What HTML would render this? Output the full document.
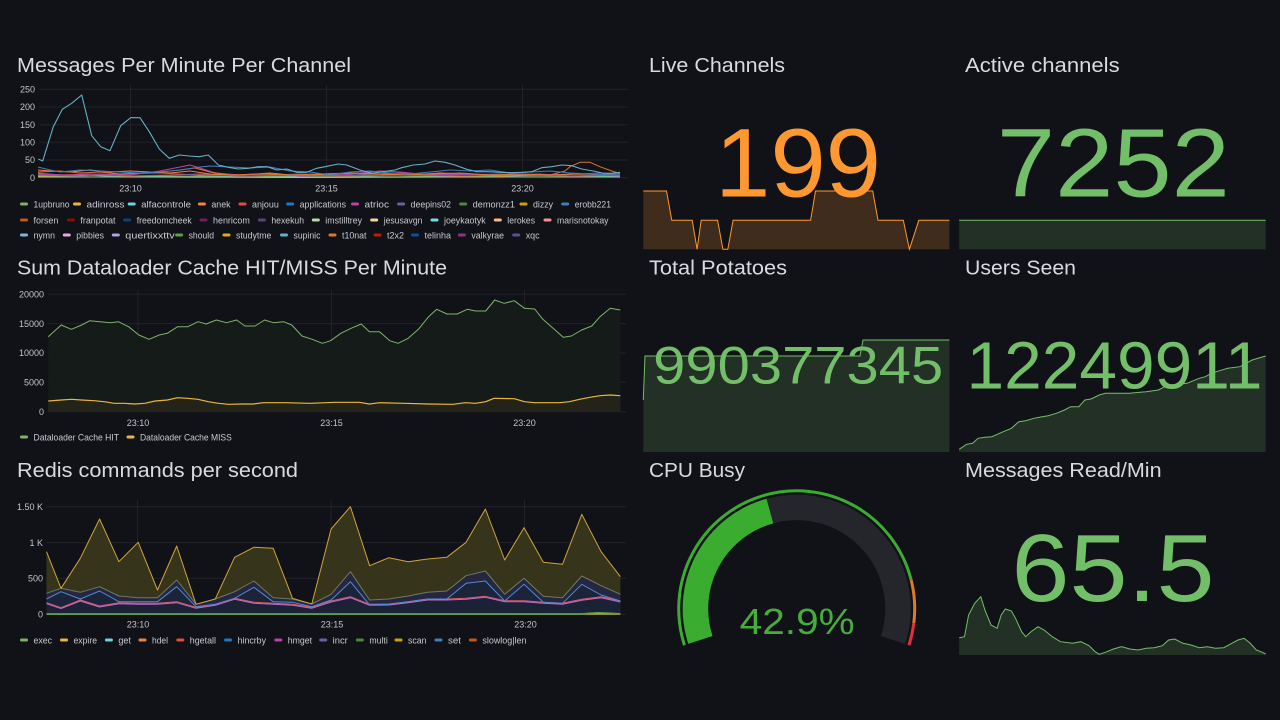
<!DOCTYPE html>
<html><head><meta charset="utf-8">
<style>
html,body{margin:0;padding:0;background:#111217;}
svg{display:block;}
text{font-family:"Liberation Sans",Arial,sans-serif;}
.t{font-size:20px;fill:#d9dae0;}
.ax{font-size:9px;fill:#c3c4ca;}
.lg{font-size:9px;fill:#c9cacf;}
.g{stroke:#202228;stroke-width:1;fill:none;}
</style></head>
<body>
<svg width="1280" height="720" viewBox="0 0 1280 720" xmlns="http://www.w3.org/2000/svg">
<rect width="1280" height="720" fill="#111217"/>

<!-- ============ Chart 1: Messages Per Minute Per Channel ============ -->
<text class="t" x="17" y="72" textLength="334" lengthAdjust="spacingAndGlyphs">Messages Per Minute Per Channel</text>
<g class="g">
<path d="M39 89.3H628M39 107H628M39 124.7H628M39 142.3H628M39 160H628M39 177.7H628"/>
<path d="M130.5 85V178M326.5 85V178M522.5 85V178"/>
</g>
<g class="ax" text-anchor="end">
<text x="35" y="92.5">250</text><text x="35" y="110.2">200</text><text x="35" y="127.9">150</text>
<text x="35" y="145.5">100</text><text x="35" y="163.2">50</text><text x="35" y="180.9">0</text>
</g>
<g class="ax" text-anchor="middle">
<text x="130.5" y="191.3">23:10</text><text x="326.5" y="191.3">23:15</text><text x="522.5" y="191.3">23:20</text>
</g>
<g fill="none" stroke-width="1" stroke-linejoin="round">
<polyline stroke="#EAB839" points="38,177 150,177 300,177.5 450,177 620,177"/>
<polyline stroke="#6ED0E0" points="38,176 80,175 130,177 200,176 260,177 330,176 400,177 470,176 540,177 620,177"/>
<polyline stroke="#7EB26D" points="38,176 100,177 160,176 230,177 300,176 380,177 450,176 520,177 620,176"/>
<polyline stroke="#E24D42" points="38,173 60,175 90,174 130,176 170,175 200,174 240,176 290,175 340,176 400,175 460,176 520,175 580,176 620,175"/>
<polyline stroke="#705DA0" points="38,175 80,176 120,174 160,173 200,175 250,176 300,174 350,175 400,173 450,175 500,174 550,175 600,173 620,174"/>
<polyline stroke="#EF843C" points="38,170 50,171 70,172 90,170 110,172 130,171 150,172 170,173 190,171 210,174 240,175 270,173 300,176 330,174 360,173 380,174 410,175 440,173 470,174 500,176 540,175 580,174 620,175"/>
<polyline stroke="#BA43A9" points="38,174 70,175 100,174 130,175 160,171 180,167 190,165 200,168 215,173 240,175 270,174 300,176 340,175 360,173 380,171 400,172 430,175 460,174 500,175 540,174 570,176 600,175 620,176"/>
<polyline stroke="#E0752D" points="38,172 60,171 80,173 100,172 120,174 140,173 160,172 180,170 195,168 210,172 230,175 260,174 290,175 320,174 350,173 370,174 400,175 430,174 460,173 490,175 520,174 550,175 565,171 570,166.7 580,162.3 590,162.3 600,166.7 611.7,171 620,173.3"/>
<polyline stroke="#447EBC" points="38,167 50,170 60,172 80,170 100,171 120,172 140,173 160,172 180,170 200,167 210,166 230,167 250,168 270,167 290,171 310,172 330,175 350,172 370,171 390,173 410,174 430,172 450,170 470,171 490,170 510,173 530,172 550,171 570,173 590,174 620,175"/>
<polyline stroke="#64B0C8" stroke-width="1.1" points="38.3,159 42.7,161 53.3,126.7 62.3,109.3 71.7,103.3 81.7,95 91.7,135.7 100.7,146.7 110,150.7 120.7,125.7 130.7,117.7 140,117.7 149.3,131.7 159.3,149 169.3,158.3 179.3,155 189.3,156 199.3,156.7 208.3,155 218.3,165 228.3,167.3 238.3,169 248.3,168.3 258.3,166.7 267.3,166.7 276.7,170 286.7,169 296.7,172.3 306.7,172.3 316.7,168.3 325,166.7 338.3,164 346.7,165 360,170 371.7,173.3 383.3,171.7 395,170 401.7,167.7 413.3,165 425,164 435,161 445,162.3 455,165 466.7,169.3 476.7,171.7 488.3,171.7 500,172.3 511.7,172.7 523.3,172.3 531.7,171.7 541.7,167.7 551.7,166.7 561.7,165 571.7,165.7 581.7,169 593.3,171 603.3,173.3 611.7,173.3 620,172.3"/>
</g>
<!-- legend chart 1 -->
<g>
<rect x="20" y="202.5" width="8" height="3" rx="1.5" fill="#7EB26D"/><text class="lg" x="33.5" y="207.3" textLength="36" lengthAdjust="spacingAndGlyphs">1upbruno</text>
<rect x="73" y="202.5" width="8" height="3" rx="1.5" fill="#EAB839"/><text class="lg" x="86.5" y="207.3" textLength="38" lengthAdjust="spacingAndGlyphs">adinross</text>
<rect x="127.7" y="202.5" width="8" height="3" rx="1.5" fill="#6ED0E0"/><text class="lg" x="141.2" y="207.3" textLength="49.8" lengthAdjust="spacingAndGlyphs">alfacontrole</text>
<rect x="197.9" y="202.5" width="8" height="3" rx="1.5" fill="#EF843C"/><text class="lg" x="211.4" y="207.3" textLength="19.2" lengthAdjust="spacingAndGlyphs">anek</text>
<rect x="238.5" y="202.5" width="8" height="3" rx="1.5" fill="#E24D42"/><text class="lg" x="252" y="207.3" textLength="26.8" lengthAdjust="spacingAndGlyphs">anjouu</text>
<rect x="286.1" y="202.5" width="8" height="3" rx="1.5" fill="#1F78C1"/><text class="lg" x="299.6" y="207.3" textLength="46.4" lengthAdjust="spacingAndGlyphs">applications</text>
<rect x="351" y="202.5" width="8" height="3" rx="1.5" fill="#BA43A9"/><text class="lg" x="364.5" y="207.3" textLength="24.5" lengthAdjust="spacingAndGlyphs">atrioc</text>
<rect x="397.1" y="202.5" width="8" height="3" rx="1.5" fill="#705DA0"/><text class="lg" x="410.6" y="207.3" textLength="40.4" lengthAdjust="spacingAndGlyphs">deepins02</text>
<rect x="459.2" y="202.5" width="8" height="3" rx="1.5" fill="#508642"/><text class="lg" x="472.7" y="207.3" textLength="42.3" lengthAdjust="spacingAndGlyphs">demonzz1</text>
<rect x="519.5" y="202.5" width="8" height="3" rx="1.5" fill="#CCA300"/><text class="lg" x="533" y="207.3" textLength="20" lengthAdjust="spacingAndGlyphs">dizzy</text>
<rect x="561.2" y="202.5" width="8" height="3" rx="1.5" fill="#447EBC"/><text class="lg" x="574.7" y="207.3" textLength="36.3" lengthAdjust="spacingAndGlyphs">erobb221</text>

<rect x="20" y="218.5" width="8" height="3" rx="1.5" fill="#C15C17"/><text class="lg" x="33.5" y="223.3" textLength="24.9" lengthAdjust="spacingAndGlyphs">forsen</text>
<rect x="66.9" y="218.5" width="8" height="3" rx="1.5" fill="#890F02"/><text class="lg" x="80.4" y="223.3" textLength="35.1" lengthAdjust="spacingAndGlyphs">franpotat</text>
<rect x="123.2" y="218.5" width="8" height="3" rx="1.5" fill="#0A437C"/><text class="lg" x="136.7" y="223.3" textLength="55.1" lengthAdjust="spacingAndGlyphs">freedomcheek</text>
<rect x="199.5" y="218.5" width="8" height="3" rx="1.5" fill="#6D1F62"/><text class="lg" x="213" y="223.3" textLength="36.8" lengthAdjust="spacingAndGlyphs">henricom</text>
<rect x="257.9" y="218.5" width="8" height="3" rx="1.5" fill="#584477"/><text class="lg" x="271.4" y="223.3" textLength="32.6" lengthAdjust="spacingAndGlyphs">hexekuh</text>
<rect x="311.8" y="218.5" width="8" height="3" rx="1.5" fill="#B7DBAB"/><text class="lg" x="325.3" y="223.3" textLength="36.7" lengthAdjust="spacingAndGlyphs">imstilltrey</text>
<rect x="370.2" y="218.5" width="8" height="3" rx="1.5" fill="#F4D598"/><text class="lg" x="383.7" y="223.3" textLength="38.7" lengthAdjust="spacingAndGlyphs">jesusavgn</text>
<rect x="430.5" y="218.5" width="8" height="3" rx="1.5" fill="#70DBED"/><text class="lg" x="444" y="223.3" textLength="41.7" lengthAdjust="spacingAndGlyphs">joeykaotyk</text>
<rect x="493.8" y="218.5" width="8" height="3" rx="1.5" fill="#F9BA8F"/><text class="lg" x="507.3" y="223.3" textLength="27.7" lengthAdjust="spacingAndGlyphs">lerokes</text>
<rect x="543.5" y="218.5" width="8" height="3" rx="1.5" fill="#F29191"/><text class="lg" x="557" y="223.3" textLength="51.5" lengthAdjust="spacingAndGlyphs">marisnotokay</text>

<rect x="20" y="233.5" width="8" height="3" rx="1.5" fill="#82B5D8"/><text class="lg" x="33.5" y="238.3" textLength="21.5" lengthAdjust="spacingAndGlyphs">nymn</text>
<rect x="62.8" y="233.5" width="8" height="3" rx="1.5" fill="#E5A8E2"/><text class="lg" x="76.3" y="238.3" textLength="27.7" lengthAdjust="spacingAndGlyphs">pibbies</text>
<rect x="111.8" y="233.5" width="8" height="3" rx="1.5" fill="#AEA2E0"/><text class="lg" x="125.3" y="238.3" textLength="49.4" lengthAdjust="spacingAndGlyphs">quertixxttv</text>
<rect x="175.1" y="233.5" width="8" height="3" rx="1.5" fill="#629E51"/><text class="lg" x="188.6" y="238.3" textLength="25.4" lengthAdjust="spacingAndGlyphs">should</text>
<rect x="222.5" y="233.5" width="8" height="3" rx="1.5" fill="#E5AC0E"/><text class="lg" x="236" y="238.3" textLength="35.4" lengthAdjust="spacingAndGlyphs">studytme</text>
<rect x="280" y="233.5" width="8" height="3" rx="1.5" fill="#64B0C8"/><text class="lg" x="293.5" y="238.3" textLength="26.9" lengthAdjust="spacingAndGlyphs">supinic</text>
<rect x="328.5" y="233.5" width="8" height="3" rx="1.5" fill="#E0752D"/><text class="lg" x="342" y="238.3" textLength="24.5" lengthAdjust="spacingAndGlyphs">t10nat</text>
<rect x="373.5" y="233.5" width="8" height="3" rx="1.5" fill="#BF1B00"/><text class="lg" x="387" y="238.3" textLength="17" lengthAdjust="spacingAndGlyphs">t2x2</text>
<rect x="411" y="233.5" width="8" height="3" rx="1.5" fill="#0A50A1"/><text class="lg" x="424.5" y="238.3" textLength="26.5" lengthAdjust="spacingAndGlyphs">telinha</text>
<rect x="457.9" y="233.5" width="8" height="3" rx="1.5" fill="#962D82"/><text class="lg" x="471.4" y="238.3" textLength="32.6" lengthAdjust="spacingAndGlyphs">valkyrae</text>
<rect x="512.2" y="233.5" width="8" height="3" rx="1.5" fill="#614D93"/><text class="lg" x="525.7" y="238.3" textLength="13.9" lengthAdjust="spacingAndGlyphs">xqc</text>
</g>

<!-- ============ Chart 2: Dataloader ============ -->
<text class="t" x="17" y="274.5" textLength="430" lengthAdjust="spacingAndGlyphs">Sum Dataloader Cache HIT/MISS Per Minute</text>
<g class="g">
<path d="M48 294.3H626M48 323.6H626M48 353H626M48 382.3H626M48 411.7H626"/>
<path d="M138 290V412M331.5 290V412M524.5 290V412"/>
</g>
<g class="ax" text-anchor="end">
<text x="44" y="297.5">20000</text><text x="44" y="326.8">15000</text><text x="44" y="356.2">10000</text>
<text x="44" y="385.5">5000</text><text x="44" y="414.9">0</text>
</g>
<g class="ax" text-anchor="middle">
<text x="138" y="426">23:10</text><text x="331.5" y="426">23:15</text><text x="524.5" y="426">23:20</text>
</g>
<path fill="#151b18" d="M48.2,411.7 L48.2,336.7 61.2,325 71.4,329.3 81.6,325 89.8,320.7 100,321.7 110.2,322.7 118.4,321.7 128.6,326.7 138.8,335 149,339.3 159.2,335 167.3,333.3 177.6,326.7 187.8,326.7 198,321.7 206.1,324 216.3,320 226.5,322.7 236.7,320 244.9,326 255.1,326 264.5,320 273.5,322.7 283.7,321.7 291.8,325 302,336 312.2,339.3 322.4,343.3 330.6,340.7 340.8,333.3 351,328.3 361.2,324 369.4,331.7 379.6,331.7 389.8,340.7 398,343.3 408.2,338.3 418.4,329.3 428.6,316.7 436.7,309.3 447,314 457.1,314 467.3,309.3 475.5,311 485.7,311 494.7,300 504.1,303.3 514.3,300.7 524.5,308.3 534.7,309 542.9,319.3 553.1,328.3 563.3,337.3 571.4,336 581.6,330 591.8,326 600,316.7 610.2,308.3 620.4,310 L620.4,411.7 Z"/>
<path fill="#23231a" d="M48.2,411.7 L48.2,401 61.2,400 71.4,399.3 81.6,400 93.9,400.7 104.1,401.7 114.3,403.3 124.5,403.3 134.7,404 144.9,403.3 155.1,401 167.3,400 177.6,397.7 187.8,398.3 198,399.3 208.2,401.7 218.4,403.3 228.6,404.3 240.8,404 253.1,404 263.3,402.7 285.7,402.7 310.2,403.3 334.7,402.3 359.2,402.3 369.4,404 379.6,402.7 404.1,403.3 428.6,404 453.1,404.3 465.3,402.7 475.5,403.3 485.7,401.7 493.9,398.3 514.3,398.7 524.5,401.7 534.7,402.7 559.2,402.7 569.4,401.7 579.6,399.3 589.8,397.3 600,395.7 610.2,395 620.4,395.7 L620.4,411.7 Z"/>
<polyline fill="none" stroke="#7EB26D" stroke-width="1" stroke-linejoin="round" points="48.2,336.7 61.2,325 71.4,329.3 81.6,325 89.8,320.7 100,321.7 110.2,322.7 118.4,321.7 128.6,326.7 138.8,335 149,339.3 159.2,335 167.3,333.3 177.6,326.7 187.8,326.7 198,321.7 206.1,324 216.3,320 226.5,322.7 236.7,320 244.9,326 255.1,326 264.5,320 273.5,322.7 283.7,321.7 291.8,325 302,336 312.2,339.3 322.4,343.3 330.6,340.7 340.8,333.3 351,328.3 361.2,324 369.4,331.7 379.6,331.7 389.8,340.7 398,343.3 408.2,338.3 418.4,329.3 428.6,316.7 436.7,309.3 447,314 457.1,314 467.3,309.3 475.5,311 485.7,311 494.7,300 504.1,303.3 514.3,300.7 524.5,308.3 534.7,309 542.9,319.3 553.1,328.3 563.3,337.3 571.4,336 581.6,330 591.8,326 600,316.7 610.2,308.3 620.4,310"/>
<polyline fill="none" stroke="#EAB839" stroke-width="1.2" stroke-linejoin="round" points="48.2,401 61.2,400 71.4,399.3 81.6,400 93.9,400.7 104.1,401.7 114.3,403.3 124.5,403.3 134.7,404 144.9,403.3 155.1,401 167.3,400 177.6,397.7 187.8,398.3 198,399.3 208.2,401.7 218.4,403.3 228.6,404.3 240.8,404 253.1,404 263.3,402.7 285.7,402.7 310.2,403.3 334.7,402.3 359.2,402.3 369.4,404 379.6,402.7 404.1,403.3 428.6,404 453.1,404.3 465.3,402.7 475.5,403.3 485.7,401.7 493.9,398.3 514.3,398.7 524.5,401.7 534.7,402.7 559.2,402.7 569.4,401.7 579.6,399.3 589.8,397.3 600,395.7 610.2,395 620.4,395.7"/>
<rect x="20" y="435.5" width="8" height="3" rx="1.5" fill="#7EB26D"/><text class="lg" x="33.5" y="440.3" textLength="85.5" lengthAdjust="spacingAndGlyphs">Dataloader Cache HIT</text>
<rect x="126.5" y="435.5" width="8" height="3" rx="1.5" fill="#EAB839"/><text class="lg" x="140" y="440.3" textLength="91.8" lengthAdjust="spacingAndGlyphs">Dataloader Cache MISS</text>

<!-- ============ Chart 3: Redis ============ -->
<text class="t" x="17" y="477" textLength="281" lengthAdjust="spacingAndGlyphs">Redis commands per second</text>
<g class="g">
<path d="M46 506.7H626M46 542.6H626M46 578.4H626M46 614.3H626"/>
<path d="M137.5 500V614M331 500V614M524.5 500V614"/>
</g>
<g class="ax" text-anchor="end">
<text x="43" y="509.9">1.50 K</text><text x="43" y="545.8">1 K</text><text x="43" y="581.6">500</text><text x="43" y="617.5">0</text>
</g>
<g class="ax" text-anchor="middle">
<text x="138" y="627.5">23:10</text><text x="332" y="627.5">23:15</text><text x="525.5" y="627.5">23:20</text>
</g>
<!-- stacked fills -->
<path fill="#36341b" d="M46.5,614.3 L46.5,551.7 61,588.3 80.3,558.3 99.6,519 118.9,561.7 138.2,542.3 157.5,590 176.7,546 196,604.3 215.3,599 234.6,557.3 253.9,547.3 273.2,548.3 292.5,598.3 311.8,604 331.1,529 350.4,506.7 369.6,565.7 388.9,557.7 408.2,561.7 427.5,559 446.8,557.3 466.1,542.3 485.4,509 504.7,560 524,527.7 543.3,562.3 562.5,564.3 581.8,514.3 601.1,551.7 620.4,576.7 L620.4,614.3 Z"/>
<path fill="#252640" d="M46.5,614.3 L46.5,593.3 61,588.3 80.3,592.3 99.6,586.7 118.9,596 138.2,597.7 157.5,597.7 176.7,580 196,604.3 215.3,599 234.6,591.7 253.9,581 273.2,597.7 292.5,599 311.8,604 331.1,594.3 350.4,571.7 369.6,600 388.9,599 408.2,596 427.5,592.3 446.8,591 466.1,575.7 485.4,571 504.7,594.3 524,578.3 543.3,596.3 562.5,597.7 581.8,576 601.1,585.7 620.4,594.3 L620.4,614.3 Z"/>
<path fill="#1b2439" d="M46.5,614.3 L46.5,599 61,591.7 80.3,599 99.6,591 118.9,601.7 138.2,601.7 157.5,601.7 176.7,586.7 196,606.7 215.3,604.3 234.6,598.3 253.9,587.3 273.2,601.7 292.5,602.3 311.8,606.7 331.1,600 350.4,581.7 369.6,605 388.9,604.3 408.2,601.7 427.5,599 446.8,599 466.1,583.3 485.4,581 504.7,601 524,584.3 543.3,602.3 562.5,603.3 581.8,584.3 601.1,595 620.4,601 L620.4,614.3 Z"/>
<path fill="#1c2235" d="M46.5,614.3 L46.5,602.7 61,607.7 80.3,600 99.6,606 118.9,602.7 138.2,603.3 157.5,603.3 176.7,601.7 196,607.3 215.3,604.3 234.6,598.3 253.9,602.3 273.2,603.3 292.5,604.3 311.8,607.3 331.1,601 350.4,596.7 369.6,604.3 388.9,604 408.2,601.7 427.5,599 446.8,599 466.1,598.3 485.4,596.3 504.7,600.7 524,600.7 543.3,602.3 562.5,603.3 581.8,599.3 601.1,596.7 620.4,601 L620.4,614.3 Z"/>
<g fill="none" stroke-width="1" stroke-linejoin="round">
<polyline stroke="#b86fc9" points="46.5,603.7 61,608.5 80.3,601 99.6,607 118.9,603.7 138.2,604.3 157.5,604.3 176.7,602.7 196,608.3 215.3,605.3 234.6,599.3 253.9,603.3 273.2,604.3 292.5,605.3 311.8,608.3 331.1,602 350.4,597.7 369.6,605.3 388.9,605 408.2,602.7 427.5,600 446.8,600 466.1,599.3 485.4,597.3 504.7,601.7 524,601.7 543.3,603.3 562.5,604.3 581.8,600.3 601.1,597.7 620.4,602"/>
<polyline stroke="#e0586c" points="46.5,602.7 61,607.7 80.3,600 99.6,606 118.9,602.7 138.2,603.3 157.5,603.3 176.7,601.7 196,607.3 215.3,604.3 234.6,598.3 253.9,602.3 273.2,603.3 292.5,604.3 311.8,607.3 331.1,601 350.4,596.7 369.6,604.3 388.9,604 408.2,601.7 427.5,599 446.8,599 466.1,598.3 485.4,596.3 504.7,600.7 524,600.7 543.3,602.3 562.5,603.3 581.8,599.3 601.1,596.7 620.4,601"/>
<polyline stroke="#5189d6" points="46.5,599 61,591.7 80.3,599 99.6,591 118.9,601.7 138.2,601.7 157.5,601.7 176.7,586.7 196,606.7 215.3,604.3 234.6,598.3 253.9,587.3 273.2,601.7 292.5,602.3 311.8,606.7 331.1,600 350.4,581.7 369.6,605 388.9,604.3 408.2,601.7 427.5,599 446.8,599 466.1,583.3 485.4,581 504.7,601 524,584.3 543.3,602.3 562.5,603.3 581.8,584.3 601.1,595 620.4,601"/>
<polyline stroke="#707a5e" points="46.5,593.3 61,588.3 80.3,592.3 99.6,586.7 118.9,596 138.2,597.7 157.5,597.7 176.7,580 196,604.3 215.3,599 234.6,591.7 253.9,581 273.2,597.7 292.5,599 311.8,604 331.1,594.3 350.4,571.7 369.6,600 388.9,599 408.2,596 427.5,592.3 446.8,591 466.1,575.7 485.4,571 504.7,594.3 524,578.3 543.3,596.3 562.5,597.7 581.8,576 601.1,585.7 620.4,594.3"/>
<polyline stroke="#cfa43c" points="46.5,551.7 61,588.3 80.3,558.3 99.6,519 118.9,561.7 138.2,542.3 157.5,590 176.7,546 196,604.3 215.3,599 234.6,557.3 253.9,547.3 273.2,548.3 292.5,598.3 311.8,604 331.1,529 350.4,506.7 369.6,565.7 388.9,557.7 408.2,561.7 427.5,559 446.8,557.3 466.1,542.3 485.4,509 504.7,560 524,527.7 543.3,562.3 562.5,564.3 581.8,514.3 601.1,551.7 620.4,576.7"/>
<polyline stroke="#b7b33a" stroke-width="1.4" points="46.5,614 620.4,614"/>
<polyline stroke="#5aa64b" stroke-width="1.3" points="46.5,614.2 580,614.2 588,613.3 598,612.7 610,613.2 620.4,613.6"/>
</g>
<!-- legend chart 3 -->
<g>
<rect x="20" y="638.5" width="8" height="3" rx="1.5" fill="#7EB26D"/><text class="lg" x="33.5" y="643.3" textLength="18.5" lengthAdjust="spacingAndGlyphs">exec</text>
<rect x="60" y="638.5" width="8" height="3" rx="1.5" fill="#EAB839"/><text class="lg" x="73.5" y="643.3" textLength="23.5" lengthAdjust="spacingAndGlyphs">expire</text>
<rect x="104.9" y="638.5" width="8" height="3" rx="1.5" fill="#6ED0E0"/><text class="lg" x="118.4" y="643.3" textLength="12.6" lengthAdjust="spacingAndGlyphs">get</text>
<rect x="138.5" y="638.5" width="8" height="3" rx="1.5" fill="#EF843C"/><text class="lg" x="152" y="643.3" textLength="16" lengthAdjust="spacingAndGlyphs">hdel</text>
<rect x="176.3" y="638.5" width="8" height="3" rx="1.5" fill="#E24D42"/><text class="lg" x="189.8" y="643.3" textLength="26.2" lengthAdjust="spacingAndGlyphs">hgetall</text>
<rect x="224.1" y="638.5" width="8" height="3" rx="1.5" fill="#1F78C1"/><text class="lg" x="237.6" y="643.3" textLength="28.4" lengthAdjust="spacingAndGlyphs">hincrby</text>
<rect x="274.3" y="638.5" width="8" height="3" rx="1.5" fill="#BA43A9"/><text class="lg" x="287.8" y="643.3" textLength="24.2" lengthAdjust="spacingAndGlyphs">hmget</text>
<rect x="319.2" y="638.5" width="8" height="3" rx="1.5" fill="#705DA0"/><text class="lg" x="332.7" y="643.3" textLength="15.1" lengthAdjust="spacingAndGlyphs">incr</text>
<rect x="355.9" y="638.5" width="8" height="3" rx="1.5" fill="#508642"/><text class="lg" x="369.4" y="643.3" textLength="18.4" lengthAdjust="spacingAndGlyphs">multi</text>
<rect x="394.5" y="638.5" width="8" height="3" rx="1.5" fill="#CCA300"/><text class="lg" x="408" y="643.3" textLength="18.5" lengthAdjust="spacingAndGlyphs">scan</text>
<rect x="434.5" y="638.5" width="8" height="3" rx="1.5" fill="#447EBC"/><text class="lg" x="448" y="643.3" textLength="13" lengthAdjust="spacingAndGlyphs">set</text>
<rect x="468.9" y="638.5" width="8" height="3" rx="1.5" fill="#C15C17"/><text class="lg" x="482.4" y="643.3" textLength="44.1" lengthAdjust="spacingAndGlyphs">slowlog|len</text>
</g>

<!-- ============ Stat: Live Channels ============ -->
<text class="t" x="649" y="72" textLength="136" lengthAdjust="spacingAndGlyphs">Live Channels</text>
<path fill="rgba(255,152,48,0.2)" d="M643.3,249.3 L643.3,191 666.5,191 671.8,220.3 692.2,220.3 697.1,249.3 701.2,220.3 717.6,220.3 722.9,249.3 727.8,249.3 733.1,220.3 810.6,220.3 815.5,191 872.7,191 878,220.3 903.3,220.3 909.4,249.3 918.8,220.3 949.4,220.3 L949.4,249.3 Z"/>
<polyline fill="none" stroke="#ff9830" stroke-width="1" points="643.3,191 666.5,191 671.8,220.3 692.2,220.3 697.1,249.3 701.2,220.3 717.6,220.3 722.9,249.3 727.8,249.3 733.1,220.3 810.6,220.3 815.5,191 872.7,191 878,220.3 903.3,220.3 909.4,249.3 918.8,220.3 949.4,220.3"/>
<text x="798" y="196.7" font-size="97" fill="#ff9830" text-anchor="middle" textLength="166" lengthAdjust="spacingAndGlyphs">199</text>

<!-- ============ Stat: Active channels ============ -->
<text class="t" x="965" y="72" textLength="154.6" lengthAdjust="spacingAndGlyphs">Active channels</text>
<rect x="959.2" y="220.3" width="306.5" height="29" fill="rgba(115,191,105,0.18)"/>
<line x1="959.2" y1="220.3" x2="1265.7" y2="220.3" stroke="#73bf69" stroke-width="1"/>
<text x="1113.4" y="196.7" font-size="97" fill="#73bf69" text-anchor="middle" textLength="233" lengthAdjust="spacingAndGlyphs">7252</text>

<!-- ============ Stat: Total Potatoes ============ -->
<text class="t" x="649" y="274.5" textLength="138" lengthAdjust="spacingAndGlyphs">Total Potatoes</text>
<path fill="rgba(115,191,105,0.18)" d="M643.3,452 L643.3,400 645,356 860,356 863,340 949.4,340 L949.4,452 Z"/>
<polyline fill="none" stroke="#73bf69" stroke-width="1" points="643.3,400 645,356 860,356 863,340 949.4,340"/>
<text x="798.2" y="383.3" font-size="52.5" fill="#73bf69" text-anchor="middle" textLength="290" lengthAdjust="spacingAndGlyphs">990377345</text>

<!-- ============ Stat: Users Seen ============ -->
<text class="t" x="965" y="274.5" textLength="111" lengthAdjust="spacingAndGlyphs">Users Seen</text>
<path fill="rgba(115,191,105,0.18)" d="M959.2,452 L959.2,449.3 966.5,444.3 972.7,443.3 978,438.3 984.9,437.3 991.8,436.7 1003.3,431.7 1011.4,428.3 1018.8,421.7 1025.7,420.7 1033.9,418.3 1042,416.7 1048.2,415.7 1056.3,413.3 1064.5,410 1070.6,406.7 1078.8,406.7 1084.9,400 1091,399 1099.2,395 1105.3,393.3 1129.8,393.3 1146.1,391.7 1158.4,390 1164.5,386.7 1170.6,385 1187,383.3 1199.2,378.3 1205.3,376.7 1211.4,373.3 1219.6,370.7 1227.8,368.3 1240,366.7 1252.2,360 1265.7,356 L1265.7,452 Z"/>
<polyline fill="none" stroke="#73bf69" stroke-width="1" points="959.2,449.3 966.5,444.3 972.7,443.3 978,438.3 984.9,437.3 991.8,436.7 1003.3,431.7 1011.4,428.3 1018.8,421.7 1025.7,420.7 1033.9,418.3 1042,416.7 1048.2,415.7 1056.3,413.3 1064.5,410 1070.6,406.7 1078.8,406.7 1084.9,400 1091,399 1099.2,395 1105.3,393.3 1129.8,393.3 1146.1,391.7 1158.4,390 1164.5,386.7 1170.6,385 1187,383.3 1199.2,378.3 1205.3,376.7 1211.4,373.3 1219.6,370.7 1227.8,368.3 1240,366.7 1252.2,360 1265.7,356"/>
<text x="1114.5" y="388.3" font-size="66.5" fill="#73bf69" text-anchor="middle" textLength="296" lengthAdjust="spacingAndGlyphs">12249911</text>

<!-- ============ Gauge: CPU Busy ============ -->
<text class="t" x="649" y="477" textLength="96" lengthAdjust="spacingAndGlyphs">CPU Busy</text>
<g fill="none">
<path d="M700.4,639.99 A101.25,101.25 0 0 1 769.98,511.03" stroke="#3aad30" stroke-width="25.5"/>
<path d="M769.98,511.03 A101.25,101.25 0 0 1 893.0,639.99" stroke="#24262c" stroke-width="25.5"/>
<path d="M684.47,645.16 A118,118 0 1 1 911.2,580.16" stroke="#3aad30" stroke-width="3"/>
<path d="M911.2,580.16 A118,118 0 0 1 913.8,623.08" stroke="#e0792a" stroke-width="3"/>
<path d="M913.8,623.08 A118,118 0 0 1 908.93,645.16" stroke="#e0303e" stroke-width="3"/>
</g>
<text x="797.2" y="634" font-size="36" fill="#46ad3c" text-anchor="middle" textLength="115" lengthAdjust="spacingAndGlyphs">42.9%</text>

<!-- ============ Stat: Messages Read/Min ============ -->
<text class="t" x="965" y="477" textLength="196.6" lengthAdjust="spacingAndGlyphs">Messages Read/Min</text>
<path fill="rgba(115,191,105,0.18)" d="M959.2,655 L959.2,637.7 964.5,636.7 968.6,615 974.7,603.3 980.8,596.7 984.9,610 991,625 997.1,628.3 1001.2,615 1005.3,609 1011.4,611 1015.5,618.3 1021.6,631.7 1025.7,636.7 1031,631.7 1038,626.7 1044.1,630 1052.2,636.7 1060.4,641.7 1072.7,643.3 1080.8,641.7 1089,645.7 1095.1,651.7 1099.2,654.3 1105.3,652.3 1113.5,649 1121.6,646.7 1129.8,649 1138,650 1146.1,648.3 1154.3,647.7 1162.4,645.7 1168.6,640 1174.7,639 1182.9,643.3 1191,645 1199.2,647.7 1207.3,646.7 1215.5,648.3 1223.7,647.7 1231.8,643.3 1238,640 1244.1,638.3 1250.2,643.3 1256.3,650 1262.4,652.3 1265.7,654 L1265.7,655 Z"/>
<polyline fill="none" stroke="#73bf69" stroke-width="1" points="959.2,637.7 964.5,636.7 968.6,615 974.7,603.3 980.8,596.7 984.9,610 991,625 997.1,628.3 1001.2,615 1005.3,609 1011.4,611 1015.5,618.3 1021.6,631.7 1025.7,636.7 1031,631.7 1038,626.7 1044.1,630 1052.2,636.7 1060.4,641.7 1072.7,643.3 1080.8,641.7 1089,645.7 1095.1,651.7 1099.2,654.3 1105.3,652.3 1113.5,649 1121.6,646.7 1129.8,649 1138,650 1146.1,648.3 1154.3,647.7 1162.4,645.7 1168.6,640 1174.7,639 1182.9,643.3 1191,645 1199.2,647.7 1207.3,646.7 1215.5,648.3 1223.7,647.7 1231.8,643.3 1238,640 1244.1,638.3 1250.2,643.3 1256.3,650 1262.4,652.3 1265.7,654"/>
<text x="1113" y="601" font-size="96" fill="#73bf69" text-anchor="middle" textLength="203" lengthAdjust="spacingAndGlyphs">65.5</text>
</svg>
</body></html>
